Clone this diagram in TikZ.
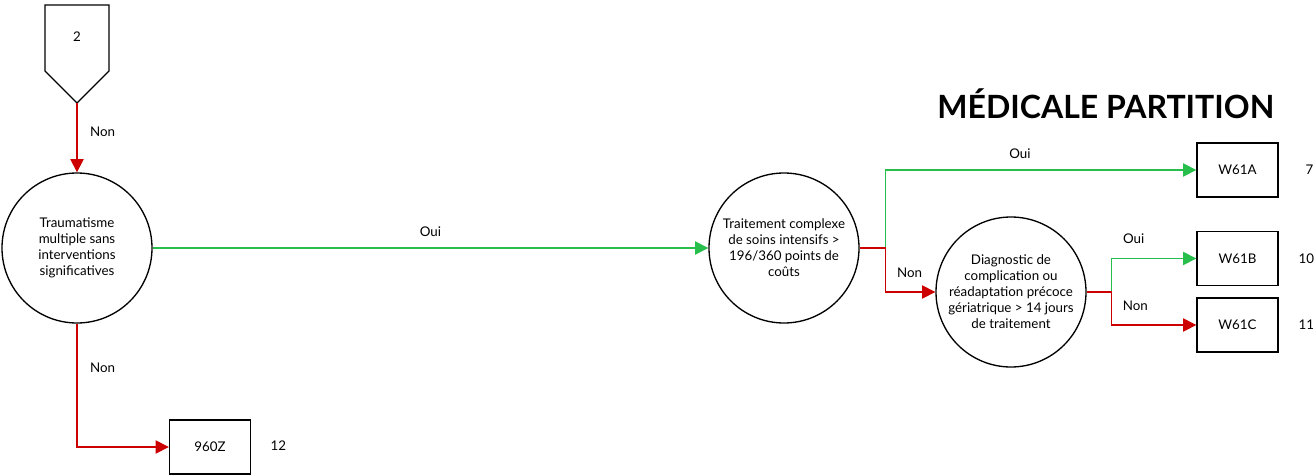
\documentclass[tikz,border=0pt]{standalone}
\usepackage{fontspec}
\setmainfont{Lato}
\usetikzlibrary{arrows.meta}

\definecolor{ouigreen}{RGB}{40,190,75}
\definecolor{nonred}{RGB}{205,0,0}

\tikzset{
    question/.style={circle,draw,line width=1pt,minimum size=112.5pt,inner sep=1pt,align=center,font=\fontsize{10}{12}\selectfont},
    drg/.style={rectangle,draw,line width=1pt,minimum width=60.75pt,minimum height=40.5pt,font=\fontsize{10}{12}\selectfont},
    lbl/.style={font=\fontsize{10}{12}\selectfont},
    yes/.style={draw=ouigreen,line width=1pt,-{Triangle[length=10pt,width=10pt]}},
    no/.style={draw=nonred,line width=1pt,-{Triangle[length=10pt,width=10pt]}}
}

\begin{document}
\begin{tikzpicture}[x=0.75pt,y=-0.75pt]
    \useasboundingbox (0,0) rectangle (1315,475);

    % entry from page 2
    \draw[line width=1pt] (45,5) -- (109,5) -- (109,71) -- (77,103) -- (45,71) -- cycle;
    \node[lbl] (p2) at (77,37) {2};
    \coordinate (p2tip) at (77,103);

    % questions
    \node[question] (q1) at (77,248) {Traumatisme\\multiple sans\\interventions\\significatives};
    \node[question] (q2) at (784,248) {Traitement complexe\\de soins intensifs >\\196/360 points de\\coûts};
    \node[question] (q3) at (1011,292) {Diagnostic de\\complication ou\\réadaptation précoce\\gériatrique > 14 jours\\de traitement};

    % results
    \node[drg] (w61a) at (1237.5,170) {W61A};
    \node[drg] (w61b) at (1237.5,258.5) {W61B};
    \node[drg] (w61c) at (1237.5,325) {W61C};
    \node[drg] (z960) at (210,447) {960Z};

    \node[lbl,anchor=west] (n7) at (1301,170) {7};
    \node[lbl,anchor=west] (n10) at (1294,258.5) {10};
    \node[lbl,anchor=west] (n11) at (1294,325) {11};
    \node[lbl,anchor=west] (n12) at (266,446) {12};

    \node[anchor=east,font=\bfseries\fontsize{24}{28}\selectfont] (title) at (1279,104) {MÉDICALE PARTITION};

    % connectors
    \draw[no] (p2tip) -- (q1) node[lbl,pos=0.42,right=6pt] {Non};
    \draw[yes] (q1) -- (q2) node[lbl,midway,above=5pt] {Oui};
    \draw[no] (q1.south) |- (z960) node[lbl,pos=0.18,right=6pt] {Non};

    \draw[yes] (q2.east) -- +(26,0) |- (w61a) node[lbl,pos=0.716,above=5pt] {Oui};
    \draw[no] (q2.east) -- +(26,0) |- (q3) node[lbl,pos=0.74,above=7pt] {Non};

    \draw[yes] (q3.east) -- +(25,0) |- (w61b) node[lbl,pos=0.63,above=7pt] {Oui};
    \draw[no] (q3.east) -- +(25,0) |- (w61c) node[lbl,pos=0.64,above=7pt] {Non};
\end{tikzpicture}
\end{document}
